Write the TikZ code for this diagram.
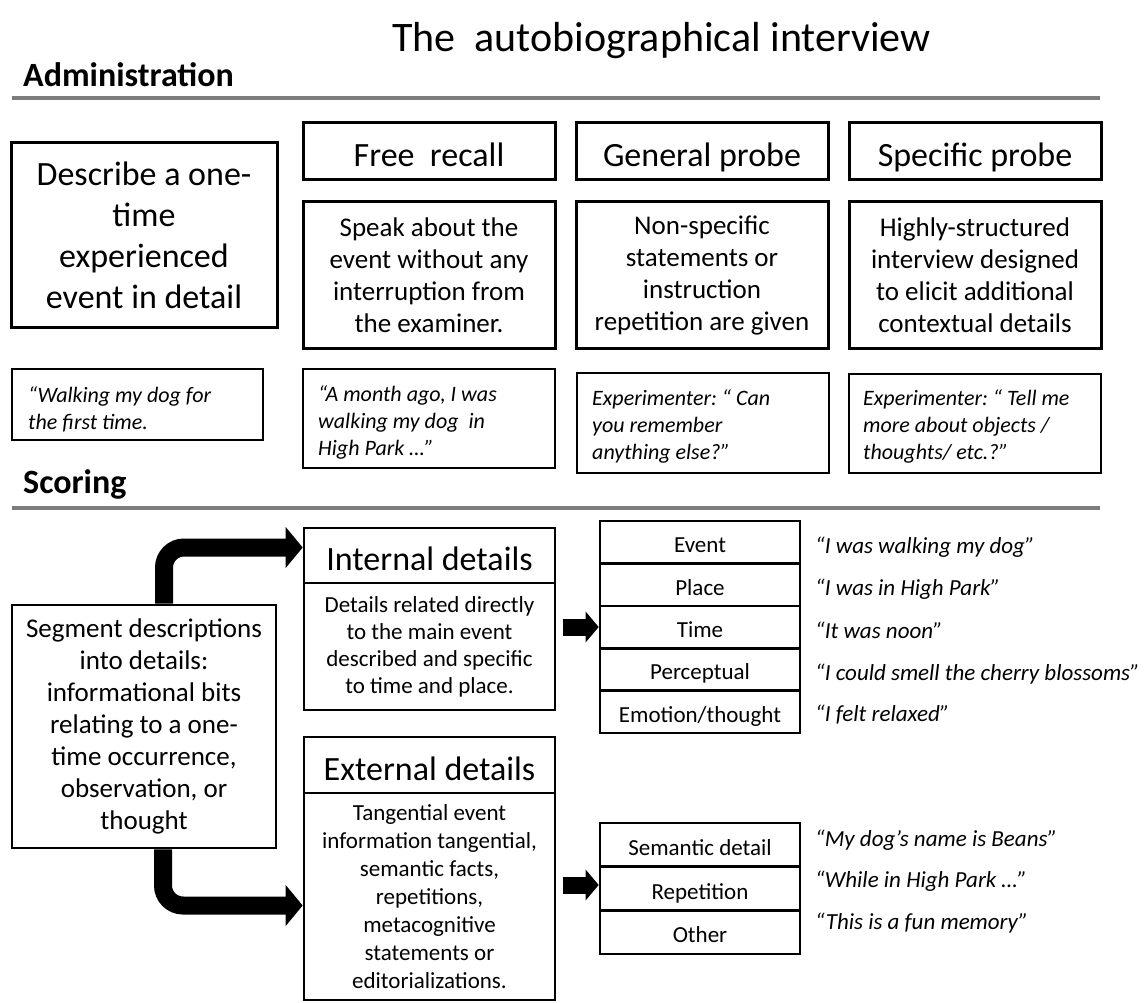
\documentclass[tikz,border=0pt]{standalone}
\usepackage{fontspec}
\setmainfont{Carlito}
\usetikzlibrary{arrows.meta,calc}
\frenchspacing
\begin{document}
\begin{tikzpicture}[x=1pt,y=-1pt,
  hdr/.style={draw,line width=3pt,minimum width=252pt,minimum height=57pt,inner sep=0pt,text height=34pt,text depth=3pt,font=\fontsize{34}{41}\selectfont},
  descbox/.style={draw,line width=3pt,minimum width=252pt,minimum height=146pt,inner sep=0pt,align=center,font=\fontsize{27}{32}\selectfont},
  qbox/.style={draw,line width=1.6pt,minimum width=252pt,inner sep=0pt},
  qtxt/.style={anchor=north west,inner sep=0pt,align=left,font=\fontsize{22}{27}\selectfont\itshape\frenchspacing},
  sbox/.style={draw,line width=2.6pt,minimum width=251pt,inner sep=0pt,align=center},
  shdr/.style={sbox,text height=32pt,text depth=2pt,font=\fontsize{34}{41}\selectfont},
  rowbox/.style={draw,line width=2.6pt,minimum width=200pt,inner sep=0pt,text height=24pt,text depth=3pt,font=\fontsize{23}{27}\selectfont},
  qtext/.style={anchor=base west,inner sep=0pt,font=\fontsize{23}{27}\selectfont\itshape},
  rulecol/.style={draw={rgb,255:red,125;green,125;blue,125},line width=3.5pt},
  bigarrow/.style={line width=18pt,rounded corners=20pt,-{Triangle[length=17pt,width=40pt]}},
  smallarrow/.style={line width=17pt,-{Triangle[length=13pt,width=30pt]}}
]
\useasboundingbox (0,0) rectangle (1146,1003);

% title and section labels
\node[anchor=base west,inner sep=0pt,font=\fontsize{42}{50}\selectfont] (title) at (392,52) {The\ \ autobiographical interview};
\node[anchor=base west,inner sep=0pt,font=\fontsize{34}{41}\selectfont\bfseries] (admin) at (23,87) {Administration};
\node[anchor=base west,inner sep=0pt,font=\fontsize{34}{41}\selectfont\bfseries] (scoring) at (23,493) {Scoring};
\draw[rulecol] (12,98) -- (1100,98);
\draw[rulecol] (12,508) -- (1100,508);

% administration
\node[draw,line width=3pt,minimum width=266pt,minimum height=184pt,inner sep=0pt,align=center,font=\fontsize{34}{41}\selectfont] (describe) at (144,235) {Describe a one-\\time\\experienced\\event in detail};

\node[hdr] (h1) at (429,151.5) {Free\ \ recall};
\node[hdr] (h2) at (702,151.5) {General probe};
\node[hdr] (h3) at (975,151) {Specific probe};

\node[descbox] (d1) at (429,275) {Speak about the\\event without any\\interruption from\\the examiner.};
\node[descbox] (d2) at (702,275) {Non-specific\\statements or\\instruction\\repetition are given};
\node[descbox] (d3) at (975,275) {Highly-structured\\interview designed\\to elicit additional\\contextual details};

\node[qbox,minimum width=251pt,minimum height=71pt] (q0) at (137.5,404.5) {};
\node[qbox,minimum height=99pt] (q1) at (429,418.5) {};
\node[qbox,minimum height=100pt] (q2) at (703,423) {};
\node[qbox,minimum height=99pt] (q3) at (975,423.5) {};
\node[qtxt] (q0t) at (28,386.5) {“Walking my dog for\\the first time.};
\node[qtxt] (q1t) at (318,385.5) {“A month ago, I was\\walking my dog\ \ in\\High Park …”};
\node[qtxt] (q2t) at (592,389.5) {Experimenter: “ Can\\you remember\\anything else?”};
\node[qtxt] (q3t) at (863,389) {Experimenter: “ Tell me\\more about objects /\\thoughts/ etc.?”};

% scoring
\node[draw,line width=2.6pt,minimum width=264pt,minimum height=243pt,inner sep=0pt,align=center,font=\fontsize{27}{32}\selectfont] (seg) at (144,726.5) {Segment descriptions\\into details:\\informational bits\\relating to a one-\\time occurrence,\\observation, or\\thought};

\node[shdr,minimum height=55pt] (ihdr) at (429.5,555.5) {Internal details};
\node[sbox,minimum height=127pt,font=\fontsize{23}{27}\selectfont] (idesc) at (429.5,646.5) {Details related directly\\to the main event\\described and specific\\to time and place.};
\node[shdr,minimum height=56pt] (ehdr) at (429.5,765) {External details};
\node[sbox,minimum height=207pt,font=\fontsize{23}{28}\selectfont] (edesc) at (429.5,896.5) {Tangential event\\information tangential,\\semantic facts,\\repetitions,\\metacognitive\\statements or\\editorializations.};

% internal table
\node[rowbox,minimum height=42.4pt] (t1a) at (700,542.2) {Event};
\node[rowbox,minimum height=42.4pt] (t1b) at (700,584.6) {Place};
\node[rowbox,minimum height=42.4pt] (t1c) at (700,627) {Time};
\node[rowbox,minimum height=42.4pt] (t1d) at (700,669.4) {Perceptual};
\node[rowbox,minimum height=42.4pt] (t1e) at (700,711.8) {Emotion/thought};

\node[qtext] (qa) at (815,553) {“I was walking my dog”};
\node[qtext] (qb) at (815,595) {“I was in High Park”};
\node[qtext] (qc) at (815,638) {“It was noon”};
\node[qtext] (qd) at (815,680) {“I could smell the cherry blossoms”};
\node[qtext] (qe) at (815,721) {“I felt relaxed”};

% external table
\node[rowbox,minimum height=43.7pt] (t2a) at (700,844.8) {Semantic detail};
\node[rowbox,minimum height=43.7pt] (t2b) at (700,888.5) {Repetition};
\node[rowbox,minimum height=43.7pt] (t2c) at (700,932.2) {Other};

\node[qtext] (qf) at (815,846) {“My dog’s name is Beans”};
\node[qtext] (qg) at (815,887) {“While in High Park …”};
\node[qtext] (qh) at (815,929) {“This is a fun memory”};

% arrows
\draw[bigarrow] ([xshift=20pt]seg.north) |- ([yshift=8pt]ihdr.west);
\draw[bigarrow] ([xshift=19pt]seg.south) |- ([yshift=-9pt]edesc.west);
\coordinate (a1s) at (563,627);
\coordinate (a2s) at (563,885);
\draw[smallarrow] (a1s) -- (t1c.west);
\draw[smallarrow] (a2s) -- (a2s -| t2b.west);
\end{tikzpicture}
\end{document}
